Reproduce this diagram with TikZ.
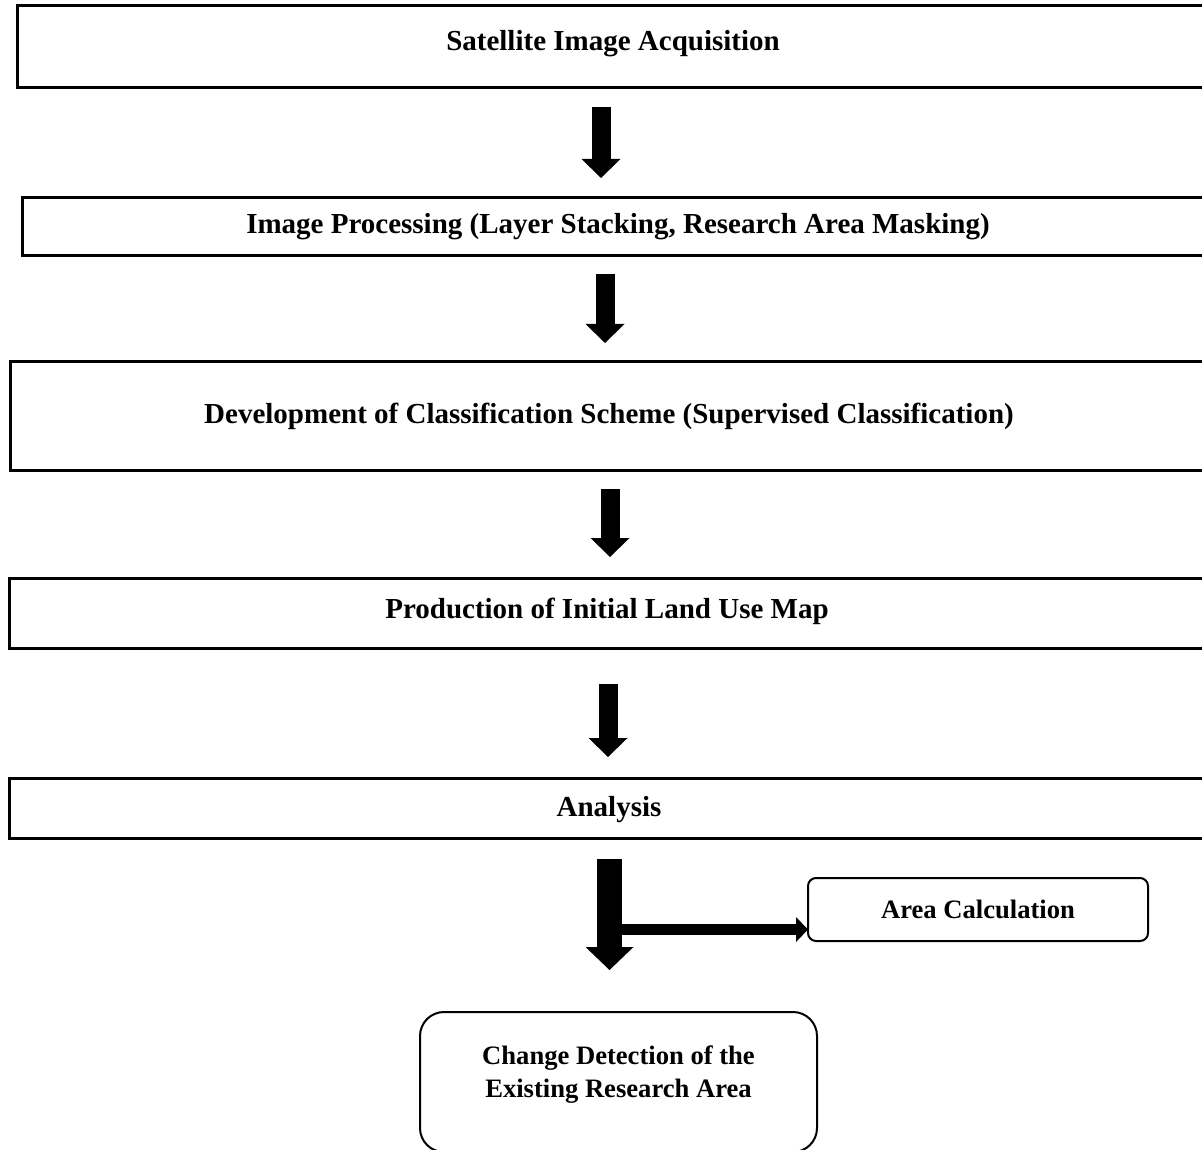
\documentclass[tikz,border=0pt]{standalone}
\usepackage{fontspec}
\setmainfont{Liberation Serif}
\usetikzlibrary{arrows.meta}

\begin{document}
\begin{tikzpicture}[
    x=0.5pt, y=-0.5pt,
    stage/.style={draw, line width=1.5pt, inner sep=0pt, outer sep=0pt, font=\fontsize{14.5}{17}\selectfont\bfseries, text height=10pt, text depth=3pt},
    result/.style={draw, line width=1pt, rounded corners=4pt, inner sep=0pt, outer sep=0pt, font=\fontsize{13.3}{16.5}\selectfont\bfseries, align=center},
    flow/.style={line width=9.5pt, -{Triangle[width=19.5pt, length=9.5pt, line width=0pt]}},
    bigflow/.style={line width=12.5pt, -{Triangle[width=24pt, length=11.5pt, line width=0pt]}},
    branch/.style={line width=5.5pt, -{Triangle[width=12.5pt, length=6pt, line width=0pt]}}
]
\useasboundingbox (0,0) rectangle (1202,1149);
\clip (0,0) rectangle (1202,1149);

% Stages
\node[stage, minimum width=596pt, minimum height=41pt, text depth=6pt] (acq) at (613,47) {Satellite Image Acquisition};
\node[stage, minimum width=596pt, minimum height=29pt] (proc) at (618,227) {Image Processing (Layer Stacking, Research Area Masking)};
\node[stage, minimum width=599pt, minimum height=54pt] (scheme) at (609,416) {Development of Classification Scheme (Supervised Classification)};
\node[stage, minimum width=598pt, minimum height=35pt, text depth=4.5pt] (map) at (607,613) {Production of Initial Land Use Map};
\node[stage, minimum width=600pt, minimum height=30pt, text depth=2pt] (analysis) at (609,808) {Analysis};

% Results
\node[result, minimum width=170pt, minimum height=31.5pt] (area) at (978,909.5) {Area Calculation};
\node[result, rounded corners=12pt, minimum width=198.5pt, minimum height=70pt, text depth=10.5pt] (change) at (618.5,1082) {Change Detection of the\\Existing Research Area};

% Arrow columns
\coordinate (col1) at (601,0);
\coordinate (col2) at (605,0);
\coordinate (col3) at (610,0);
\coordinate (col4) at (608,0);
\coordinate (col5) at (609.5,0);
\coordinate (split) at (622,929.5);

% Arrows
\draw[flow, shorten <=9.5pt, shorten >=10pt] (acq.south -| col1) -- (proc.north -| col1);
\draw[flow, shorten <=9pt, shorten >=9.5pt] (proc.south -| col2) -- (scheme.north -| col2);
\draw[flow, shorten <=9.5pt, shorten >=10.5pt] (scheme.south -| col3) -- (map.north -| col3);
\draw[flow, shorten <=18pt, shorten >=10.5pt] (map.south -| col4) -- (analysis.north -| col4);
\draw[bigflow, shorten <=10.5pt, shorten >=21pt] (analysis.south -| col5) -- (change.north -| col5);
\draw[branch] (split) -- (split -| area.west);

\end{tikzpicture}
\end{document}
